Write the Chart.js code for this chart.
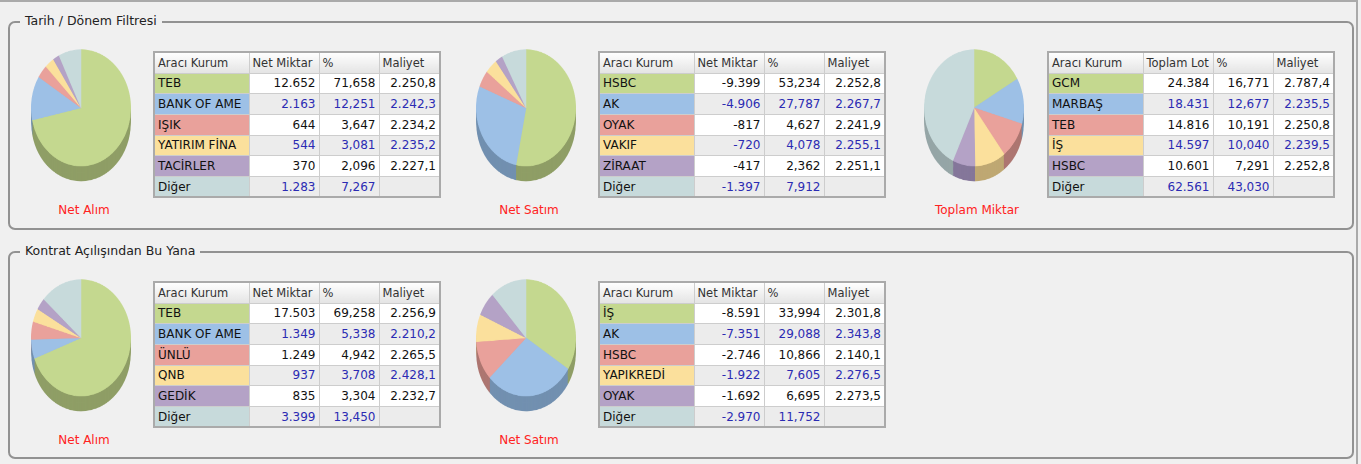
<!DOCTYPE html>
<html>
<head>
<meta charset="utf-8">
<script src="https://cdn.jsdelivr.net/npm/chart.js@4.4.0/dist/chart.umd.min.js"></script>
<style>
body{margin:0;background:#f0f0f0;font-family:"DejaVu Sans",Verdana,sans-serif;width:1361px;height:464px;overflow:hidden;position:relative}
.frame{position:absolute;left:0;top:0;width:1358px;height:464px;border-top:2px solid #aaa;border-right:2px solid #aaa;box-sizing:border-box}
.group{position:absolute;left:8px;width:1346px;border:2px solid #929292;border-radius:7px;box-sizing:border-box}
.legend{position:absolute;top:-10px;left:10px;padding:0 5px;background:#f0f0f0;font-size:12.5px;color:#222;line-height:16px}
.pie{position:absolute;transform-origin:0 0;transform:scaleY(1.17)}
.cap{position:absolute;width:160px;text-align:center;color:#f22;font-size:12px;line-height:14px}
table{position:absolute;border-collapse:collapse;border:2px solid #aaa;font-size:12px;table-layout:fixed;color:#111}
td,th{border:1px solid #cdcdcd;padding:0 3px;height:20.7px;white-space:nowrap;overflow:hidden;box-sizing:border-box}
th{font-weight:normal;text-align:left;font-size:11.5px;color:#333;background:linear-gradient(#fefefe,#e4e4e4);height:21px}
td.n{text-align:right;background:#fff}
tr.alt td.n{background:#ececec;color:#2b2bb3}
</style>
</head>
<body>
<div class="frame"></div>
<div class="group" style="top:21px;height:209px"><div class="legend">Tarih / Dönem Filtresi</div></div>
<div class="group" style="top:251px;height:208px"><div class="legend">Kontrat Açılışından Bu Yana</div></div>
<script>
var colors = ['#c4d88f', '#9dc0e6', '#e9a19b', '#fbe09c', '#b4a2c6', '#c7dadb'];
var sideColors = ['#8f9e66', '#7290b0', '#ad7671', '#bfa873', '#85779a', '#96a6a7'];

// Tarih / Dönem Filtresi
var alim1Labels = ['TEB', 'BANK OF AME', 'IŞIK', 'YATIRIM FİNA', 'TACİRLER', 'Diğer'];
var alim1Miktar = [12652, 2163, 644, 544, 370, 1283];
var alim1Yuzde = [71.658, 12.251, 3.647, 3.081, 2.096, 7.267];
var alim1Maliyet = [2250.8, 2242.3, 2234.2, 2235.2, 2227.1, null];

var satim1Labels = ['HSBC', 'AK', 'OYAK', 'VAKIF', 'ZİRAAT', 'Diğer'];
var satim1Miktar = [-9399, -4906, -817, -720, -417, -1397];
var satim1Yuzde = [53.234, 27.787, 4.627, 4.078, 2.362, 7.912];
var satim1Maliyet = [2252.8, 2267.7, 2241.9, 2255.1, 2251.1, null];

var toplamLabels = ['GCM', 'MARBAŞ', 'TEB', 'İŞ', 'HSBC', 'Diğer'];
var toplamLot = [24384, 18431, 14816, 14597, 10601, 62561];
var toplamYuzde = [16.771, 12.677, 10.191, 10.040, 7.291, 43.030];
var toplamMaliyet = [2787.4, 2235.5, 2250.8, 2239.5, 2252.8, null];

// Kontrat Açılışından Bu Yana
var alim2Labels = ['TEB', 'BANK OF AME', 'ÜNLÜ', 'QNB', 'GEDİK', 'Diğer'];
var alim2Miktar = [17503, 1349, 1249, 937, 835, 3399];
var alim2Yuzde = [69.258, 5.338, 4.942, 3.708, 3.304, 13.450];
var alim2Maliyet = [2256.9, 2210.2, 2265.5, 2428.1, 2232.7, null];

var satim2Labels = ['İŞ', 'AK', 'HSBC', 'YAPIKREDİ', 'OYAK', 'Diğer'];
var satim2Miktar = [-8591, -7351, -2746, -1922, -1692, -2970];
var satim2Yuzde = [33.994, 29.088, 10.866, 7.605, 6.695, 11.752];
var satim2Maliyet = [2301.8, 2343.8, 2140.1, 2276.5, 2273.5, null];

function fmt(v, dec) {
    if (v === null) return '';
    var neg = v < 0;
    var parts = Math.abs(v).toFixed(dec).split('.');
    var s = parts[0].replace(/\B(?=(\d{3})+(?!\d))/g, '.');
    if (parts[1]) s += ',' + parts[1];
    return (neg ? '-' : '') + s;
}

// draws the 3d rim under the slices
var sidePlugin = {
    id: 'side',
    beforeDatasetsDraw: function(chart) {
        var ctx = chart.ctx;
        var meta = chart.getDatasetMeta(0);
        ctx.save();
        for (var d = 13; d >= 1; d--) {
            meta.data.forEach(function(arc, i) {
                var p = arc.getProps(['x', 'y', 'startAngle', 'endAngle', 'outerRadius'], true);
                ctx.beginPath();
                ctx.moveTo(p.x, p.y + d);
                ctx.arc(p.x, p.y + d, p.outerRadius, p.startAngle, p.endAngle);
                ctx.closePath();
                ctx.fillStyle = sideColors[i];
                ctx.fill();
            });
        }
        ctx.restore();
    }
};

function panel(top, pieX, tableX, labels, miktar, yuzde, maliyet, col2, caption) {
    var wrap = document.createElement('div');
    wrap.className = 'pie';
    wrap.style.left = (pieX - 52) + 'px';
    wrap.style.top = (top - 3) + 'px';
    var cv = document.createElement('canvas');
    cv.width = 104;
    cv.height = 118;
    wrap.appendChild(cv);
    document.body.appendChild(wrap);

    new Chart(cv, {
        type: 'pie',
        data: {
            labels: labels,
            datasets: [{
                data: yuzde,
                backgroundColor: colors,
                borderColor: colors,
                borderWidth: 0.5
            }]
        },
        options: {
            responsive: false,
            animation: false,
            devicePixelRatio: 2,
            layout: { padding: { left: 2, right: 2, top: 2, bottom: 16 } },
            plugins: { legend: { display: false }, tooltip: { enabled: false } }
        },
        plugins: [sidePlugin]
    });

    var cap = document.createElement('div');
    cap.className = 'cap';
    cap.textContent = caption;
    cap.style.left = (pieX + 3 - 80) + 'px';
    cap.style.top = (top + 153) + 'px';
    document.body.appendChild(cap);

    var html = '<colgroup><col style="width:95px"><col style="width:70px"><col style="width:60px"><col style="width:61px"></colgroup>';
    html += '<tr><th>Aracı Kurum</th><th>' + col2 + '</th><th>%</th><th>Maliyet</th></tr>';
    for (var i = 0; i < labels.length; i++) {
        html += '<tr' + (i % 2 ? ' class="alt"' : '') + '>' +
            '<td style="background:' + colors[i] + '">' + labels[i] + '</td>' +
            '<td class="n">' + fmt(miktar[i], 0) + '</td>' +
            '<td class="n">' + fmt(yuzde[i], 3) + '</td>' +
            '<td class="n">' + fmt(maliyet[i], 1) + '</td></tr>';
    }
    var t = document.createElement('table');
    t.innerHTML = html;
    t.style.left = tableX + 'px';
    t.style.top = (top + 1) + 'px';
    t.style.width = '286px';
    document.body.appendChild(t);
}

panel(50, 81, 153, alim1Labels, alim1Miktar, alim1Yuzde, alim1Maliyet, 'Net Miktar', 'Net Alım');
panel(50, 526, 598, satim1Labels, satim1Miktar, satim1Yuzde, satim1Maliyet, 'Net Miktar', 'Net Satım');
panel(50, 974, 1047, toplamLabels, toplamLot, toplamYuzde, toplamMaliyet, 'Toplam Lot', 'Toplam Miktar');
panel(280, 81, 153, alim2Labels, alim2Miktar, alim2Yuzde, alim2Maliyet, 'Net Miktar', 'Net Alım');
panel(280, 526, 598, satim2Labels, satim2Miktar, satim2Yuzde, satim2Maliyet, 'Net Miktar', 'Net Satım');
</script>
</body>
</html>
